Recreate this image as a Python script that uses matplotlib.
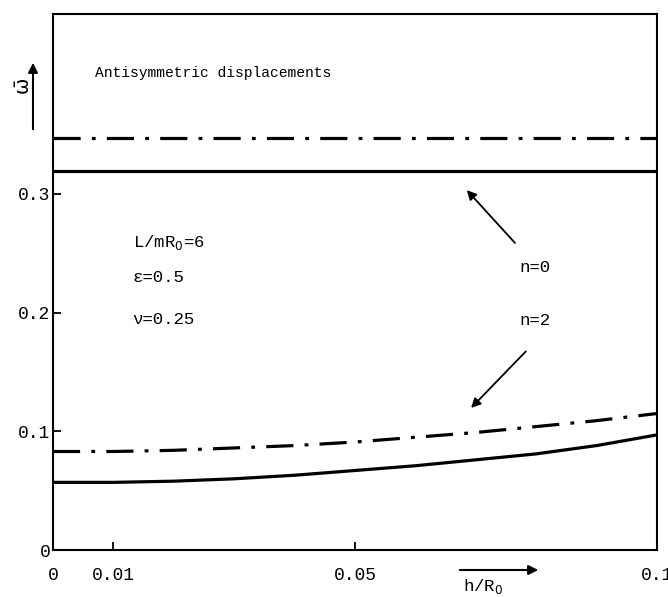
import matplotlib
matplotlib.use("Agg")
import matplotlib.pyplot as plt
import numpy as np

# h/R0 values and frequency parameter
h_r0 = [0.0, 0.01, 0.02, 0.03, 0.04, 0.05, 0.06, 0.07, 0.08, 0.09, 0.1]
w_n0_solid = [0.319, 0.319, 0.319, 0.319, 0.319, 0.319, 0.319, 0.319, 0.319, 0.319, 0.319]
w_n0_dash = [0.347, 0.347, 0.347, 0.347, 0.347, 0.347, 0.347, 0.347, 0.347, 0.347, 0.347]
w_n2_solid = [0.057, 0.057, 0.058, 0.060, 0.063, 0.067, 0.071, 0.076, 0.081, 0.088, 0.097]
w_n2_dash = [0.083, 0.083, 0.084, 0.086, 0.088, 0.091, 0.095, 0.099, 0.104, 0.109, 0.115]

xticks = [0, 0.01, 0.05, 0.1]
xticklabels = ["0", "0.01", "0.05", "0.1"]
yticks = [0, 0.1, 0.2, 0.3]
yticklabels = ["0", "0.1", "0.2", "0.3"]

plt.rcParams["font.family"] = ["Liberation Mono", "DejaVu Sans Mono"]

fig = plt.figure(figsize=(6.68, 5.97), dpi=100)
ax = fig.add_axes([0.0793, 0.0787, 0.9042, 0.8978])

dash = (8.5, 3.5, 1.2, 3.5)
ax.plot(h_r0, w_n0_solid, color="black", lw=2.3)
ax.plot(h_r0, w_n0_dash, color="black", lw=2.3, dashes=dash)
ax.plot(h_r0, w_n2_solid, color="black", lw=2.3)
ax.plot(h_r0, w_n2_dash, color="black", lw=2.3, dashes=dash)

ax.set_xlim(0, 0.1)
ax.set_ylim(0, 0.4516)
ax.set_xticks(xticks)
ax.set_xticklabels(xticklabels, fontsize=13)
ax.set_yticks(yticks)
ax.set_yticklabels(yticklabels, fontsize=13)
ax.tick_params(direction="in", length=6, width=1.3)
ax.tick_params(axis="x", pad=12)
ax.tick_params(axis="y", pad=2)
for s in ax.spines.values():
    s.set_linewidth(1.5)

ax.text(0.007, 0.402, "Antisymmetric displacements", fontsize=10.5, va="center")
ax.text(0.0132, 0.259, r"L/mR$_0$=6", fontsize=12.5, va="center")
ax.text(0.0132, 0.2295, "ε=0.5", fontsize=12.5, va="center")
ax.text(0.0132, 0.194, "ν=0.25", fontsize=12.5, va="center")
ax.text(0.0773, 0.238, "n=0", fontsize=12.5, va="center")
ax.text(0.0773, 0.193, "n=2", fontsize=12.5, va="center")

arrow = dict(arrowstyle="-|>", color="black", lw=1.3, mutation_scale=14)
ax.annotate("", xy=(0.0682, 0.305), xytext=(0.0768, 0.257), arrowprops=arrow)
ax.annotate("", xy=(0.0689, 0.118), xytext=(0.0786, 0.169), arrowprops=arrow)

# y label with upward arrow
fig.text(22 / 668, 1 - 85 / 597, "ω̄", rotation=90, fontsize=14, ha="center", va="center",
         family=["DejaVu Sans"])
fig.patches.append(matplotlib.patches.FancyArrowPatch(
    (33 / 668, 1 - 132 / 597), (33 / 668, 1 - 60 / 597), transform=fig.transFigure,
    arrowstyle="-|>", color="black", lw=1.5, mutation_scale=14))

# x label with right arrow
fig.text(483 / 668, 1 - 586 / 597, r"h/R$_0$", fontsize=12.5, ha="center", va="center")
fig.patches.append(matplotlib.patches.FancyArrowPatch(
    (457 / 668, 1 - 570 / 597), (541 / 668, 1 - 570 / 597), transform=fig.transFigure,
    arrowstyle="-|>", color="black", lw=1.5, mutation_scale=14))

fig.savefig("out.png", dpi=100)
